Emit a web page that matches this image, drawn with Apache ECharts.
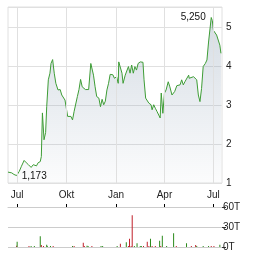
<!DOCTYPE html>
<html><head><meta charset="utf-8">
<script src="https://cdn.jsdelivr.net/npm/echarts@6/dist/echarts.min.js"></script>
<style>html,body{margin:0;padding:0;background:#fff}#c{width:264px;height:255px}</style>
</head><body><div id="c"></div>
<script>
var priceDates = ['2024-06-14','2024-06-21','2024-06-25','2024-06-30','2024-07-03','2024-07-05','2024-07-09','2024-07-14','2024-07-18','2024-07-22','2024-07-27','2024-07-31','2024-08-03','2024-08-06','2024-08-09','2024-08-13','2024-08-15','2024-08-17','2024-08-20','2024-08-23','2024-08-25','2024-08-28','2024-08-31','2024-09-02','2024-09-05','2024-09-07','2024-09-08','2024-09-11','2024-09-15','2024-09-19','2024-09-22','2024-09-25','2024-09-28','2024-09-30','2024-10-03','2024-10-06','2024-10-09','2024-10-12','2024-10-15','2024-10-18','2024-10-21','2024-10-24','2024-10-27','2024-10-30','2024-11-02','2024-11-05','2024-11-08','2024-11-11','2024-11-13','2024-11-15','2024-11-18','2024-11-20','2024-11-23','2024-11-26','2024-11-30','2024-12-03','2024-12-06','2024-12-09','2024-12-12','2024-12-15','2024-12-18','2024-12-21','2024-12-26','2024-12-29','2025-01-02','2025-01-05','2025-01-06','2025-01-09','2025-01-12','2025-01-14','2025-01-18','2025-01-21','2025-01-24','2025-01-27','2025-01-30','2025-02-02','2025-02-05','2025-02-08','2025-02-11','2025-02-15','2025-02-20','2025-02-22','2025-02-25','2025-02-28','2025-03-03','2025-03-07','2025-03-09','2025-03-12','2025-03-15','2025-03-18','2025-03-21','2025-03-24','2025-03-26','2025-03-29','2025-04-01','2025-04-04','2025-04-08','2025-04-11','2025-04-15','2025-04-16','2025-04-20','2025-04-24','2025-04-27','2025-04-30','2025-05-03','2025-05-06','2025-05-09','2025-05-11','2025-05-16','2025-05-17','2025-05-20','2025-05-25','2025-05-28','2025-05-31','2025-06-03','2025-06-06','2025-06-09','2025-06-12','2025-06-16','2025-06-19','2025-06-22','2025-06-25','2025-06-27','2025-06-29','2025-07-01','2025-07-04','2025-07-07','2025-07-10','2025-07-13','2025-07-15'];
var priceValues = [1.28,1.26,1.22,1.19,1.173,1.30,1.43,1.58,1.52,1.47,1.40,1.47,1.50,1.44,1.52,1.55,1.68,2.80,2.11,2.30,2.96,3.65,3.82,4.07,4.17,4.15,3.82,3.56,3.39,3.40,3.26,3.30,3.13,2.96,2.71,2.67,2.71,2.62,2.84,2.86,3.22,3.40,3.66,3.47,3.44,3.40,3.35,3.40,3.35,4.07,4.03,3.77,3.47,3.22,3.18,2.96,3.15,3.01,3.10,3.39,3.56,3.79,3.78,3.69,3.73,3.56,4.11,4.10,3.82,3.56,3.77,3.73,3.99,3.82,4.03,3.82,3.99,3.90,4.07,4.11,4.10,3.65,3.18,3.13,3.05,3.01,2.88,3.01,2.92,2.84,2.82,2.67,3.31,2.79,3.31,3.39,3.60,3.47,3.26,3.31,3.35,3.50,3.47,3.52,3.65,3.52,3.60,3.65,3.77,3.69,3.73,3.73,3.69,3.65,3.26,3.09,3.43,3.99,4.07,4.16,4.62,4.65,5.25,5.17,4.92,4.88,4.80,4.77,4.54,4.33];
var volDates = ['2024-06-30','2024-07-01','2024-07-23','2024-07-27','2024-08-02','2024-08-13','2024-08-15','2024-08-19','2024-08-25','2024-08-26','2024-09-01','2024-09-06','2024-10-12','2024-10-15','2024-11-01','2024-11-03','2024-11-08','2024-11-10','2024-11-17','2024-12-04','2024-12-07','2025-01-03','2025-01-09','2025-01-20','2025-01-24','2025-01-26','2025-01-29','2025-01-31','2025-02-04','2025-02-09','2025-02-15','2025-02-17','2025-02-21','2025-02-28','2025-03-03','2025-03-06','2025-03-09','2025-03-15','2025-03-23','2025-03-25','2025-03-28','2025-04-05','2025-04-18','2025-04-23','2025-05-12','2025-05-21','2025-05-29','2025-05-31','2025-06-12','2025-06-22','2025-06-27','2025-07-02','2025-07-13'];
var volValues = [2,8,1.5,1.5,1.5,16,3,1.5,3.5,1.5,1.5,1.5,1.5,1.5,6.5,1.5,2,1.5,1.5,1.5,1.5,1.5,5,7,1.5,12.5,1.5,47.5,1.5,5.5,1.5,1.5,1.5,8,1.5,12.5,1.5,1.5,9.5,1.5,17,1.5,20.5,1.5,5.5,1.5,3,1.5,1.5,1.5,1.5,1.5,3.5];
var volDir = ['d','u','d','u','u','u','d','d','u','u','u','d','u','d','d','d','u','u','d','u','u','u','d','u','d','d','d','d','u','u','u','u','d','d','d','u','d','d','u','d','u','u','u','d','u','d','d','u','u','u','d','d','u'];
var tickDates = ['2024-07-01','2024-10-01','2025-01-01','2025-04-01','2025-07-01'];
var monthNames = ['Jan','Feb','Mär','Apr','Mai','Jun','Jul','Aug','Sep','Okt','Nov','Dez'];
var yTicks = [1,2,3,4,5];
var volTicks = [0,30,60];

var xMinDate = '2024-06-14', xMaxDate = '2025-07-17';
var font = 'Liberation Sans, Arial, sans-serif';

function pad(n){return (n<10?'0':'')+n;}
function dayList(a,b){
  var pa=a.split('-'),pb=b.split('-');
  var t=Date.UTC(+pa[0],+pa[1]-1,+pa[2]),e=Date.UTC(+pb[0],+pb[1]-1,+pb[2]),out=[];
  for(;t<=e;t+=86400000){var d=new Date(t);out.push(d.getUTCFullYear()+'-'+pad(d.getUTCMonth()+1)+'-'+pad(d.getUTCDate()));}
  return out;
}
var days = dayList(xMinDate, xMaxDate);
function isTick(i, v){return tickDates.indexOf(v) >= 0;}
function fmtNum(v){return v.toFixed(3).replace('.',',');}

var chart = echarts.init(document.getElementById('c'), null, {renderer:'canvas'});
chart.setOption({
  animation:false,
  grid:[
    {left:8,right:42,top:7,height:176,show:true,borderColor:'#e0e0e0',borderWidth:1},
    {left:8,right:42,top:207,height:40}
  ],
  xAxis:[
    {type:'category',gridIndex:0,data:days,boundaryGap:false,
     axisLine:{show:false},axisTick:{show:false},splitLine:{show:false},
     axisLabel:{interval:isTick,margin:7,fontSize:10,color:'#222',fontFamily:font,
       formatter:function(v){return monthNames[+v.split('-')[1]-1];}}},
    {type:'category',gridIndex:1,data:days,boundaryGap:false,position:'top',
     axisLine:{show:true,onZero:false,lineStyle:{color:'#cccccc'}},
     axisTick:{show:true,interval:isTick,length:3,inside:false,lineStyle:{color:'#000',width:1}},
     splitLine:{show:false},axisLabel:{show:false}}
  ],
  yAxis:[
    {type:'value',gridIndex:0,position:'right',min:1,max:5.52,interval:1,
     axisLine:{show:false},axisTick:{show:false},
     splitLine:{lineStyle:{color:'#e0e0e0'}},
     axisLabel:{margin:4,fontSize:10,color:'#222',fontFamily:font,
       formatter:function(v){return yTicks.indexOf(v)>=0?String(v):'';}}},
    {type:'value',gridIndex:1,position:'right',min:0,max:60,interval:30,
     axisLine:{show:false},axisTick:{show:true,length:4,lineStyle:{color:'#333'}},
     splitLine:{lineStyle:{color:'#cccccc'}},
     axisLabel:{margin:1,fontSize:10,color:'#222',fontFamily:font,
       formatter:function(v){return volTicks.indexOf(v)>=0?v+'T':'';}}}
  ],
  series:[
    {type:'line',xAxisIndex:0,yAxisIndex:0,showSymbol:false,symbol:'none',
     data:priceDates.map(function(d,i){return [d,priceValues[i]];}),
     lineStyle:{color:'#3d9c35',width:1},
     areaStyle:{color:new echarts.graphic.LinearGradient(0,0,0,1,[{offset:0,color:'rgba(135,155,178,0.5)'},{offset:1,color:'rgba(135,155,178,0.04)'}])},
     markLine:{silent:true,symbol:'none',label:{show:false},lineStyle:{color:'#e0e0e0',width:1,type:'solid'},
       data:tickDates.map(function(t){return {xAxis:t};})},
     markPoint:{symbol:'circle',symbolSize:1,itemStyle:{color:'rgba(0,0,0,0)'},
       label:{show:true,fontSize:10,color:'#111',fontFamily:font,formatter:function(p){return fmtNum(p.value);}},
       data:[{type:'max',label:{position:'left',distance:5}},{type:'min',label:{position:'right',distance:3}}]}},
    {type:'bar',xAxisIndex:1,yAxisIndex:1,barWidth:1,
     data:volDates.map(function(d,i){return {value:[d,volValues[i]],itemStyle:{color:volDir[i]==='u'?'#2a8a1a':'#c0202a'}};})}
  ]
});
</script></body></html>
